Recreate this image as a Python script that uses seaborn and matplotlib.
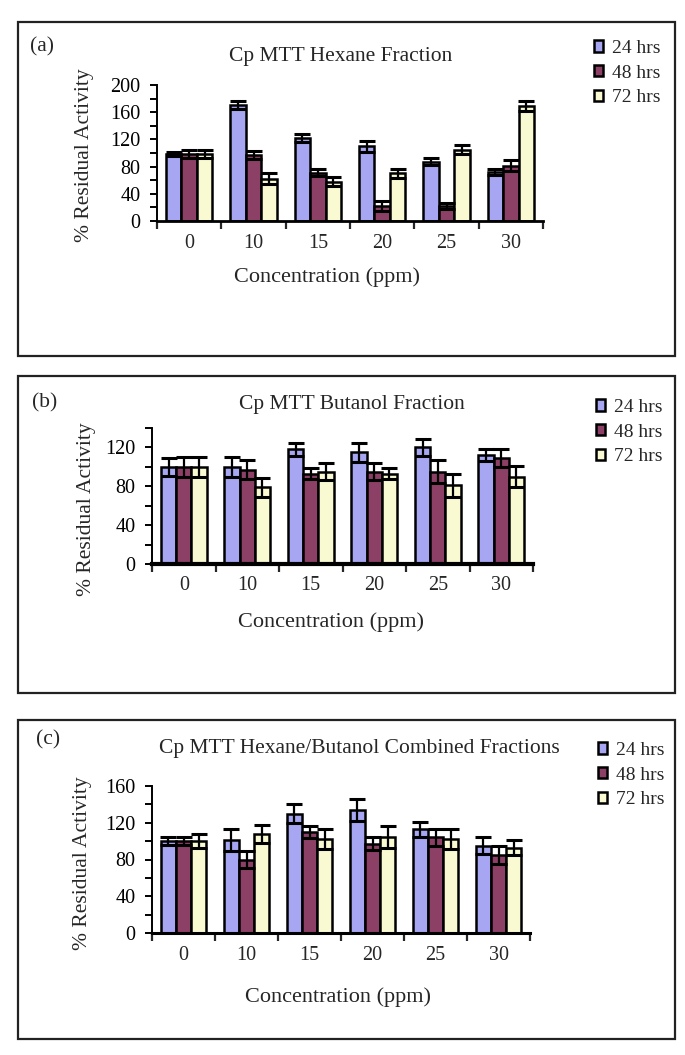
import numpy as np
import pandas as pd
import matplotlib
matplotlib.use('Agg')
import matplotlib.pyplot as plt
from matplotlib.patches import Rectangle
from matplotlib.ticker import MultipleLocator, FixedLocator
import seaborn as sns

# -----------------------------
# Data
# -----------------------------
conc = ['0', '10', '15', '20', '25', '30']
times = ['24 hrs', '48 hrs', '72 hrs']

hex_24 = [99, 171, 122, 110, 87, 72]
hex_48 = [99, 97, 71, 22, 22, 81]
hex_72 = [99, 62, 58, 70, 105, 169]
hex_24_err = [3, 6, 6, 8, 5, 5]
hex_48_err = [6, 6, 5, 8, 5, 8]
hex_72_err = [6, 8, 7, 7, 7, 7]

but_24 = [100, 100, 118, 115, 120, 112]
but_48 = [100, 97, 93, 95, 95, 109]
but_72 = [100, 79, 95, 93, 81, 90]
but_24_err = [9, 10, 7, 10, 9, 6]
but_48_err = [10, 10, 6, 9, 12, 9]
but_72_err = [10, 10, 9, 6, 12, 11]

comb_24 = [100, 101, 130, 134, 113, 95]
comb_48 = [100, 80, 110, 97, 104, 85]
comb_72 = [100, 108, 102, 104, 102, 93]
comb_24_err = [4, 12, 10, 12, 8, 9]
comb_48_err = [4, 9, 7, 7, 9, 10]
comb_72_err = [8, 10, 11, 12, 11, 8]

titles = ['Cp MTT Hexane Fraction', 'Cp MTT Butanol Fraction',
          'Cp MTT Hexane/Butanol Combined Fractions']
panel_tags = ['(a)', '(b)', '(c)']
colors = ['#9999FF', '#993366', '#FFFFCC']

# -----------------------------
# Style
# -----------------------------
sns.set_style('ticks')
plt.rcParams['font.family'] = ['Liberation Serif', 'DejaVu Serif']
plt.rcParams['axes.edgecolor'] = 'black'

W, H = 685, 1055
fig = plt.figure(figsize=(W / 100, H / 100), dpi=100)


def fx(px):
    return px / W


def fy(py):
    return 1 - py / H


def make_df(v24, v48, v72):
    return pd.DataFrame({
        'conc': conc * 3,
        'value': v24 + v48 + v72,
        'time': [t for t in times for _ in conc],
    })


panels = [
    dict(df=make_df(hex_24, hex_48, hex_72), errs=[hex_24_err, hex_48_err, hex_72_err],
         box=(18, 22, 675, 356), ax=(157, 85, 543, 221), ymax=200,
         tag=(42, 47), title=(341, 57), legend=(594, 73),
         ylab=(84, 155), xlab=(327, 277), bottom_lw=2.0),
    dict(df=make_df(but_24, but_48, but_72), errs=[but_24_err, but_48_err, but_72_err],
         box=(18, 376, 675, 693), ax=(152, 428, 533, 564), ymax=140,
         tag=(45, 403), title=(352, 404), legend=(596, 432),
         ylab=(86, 509), xlab=(331, 622), bottom_lw=3.0),
    dict(df=make_df(comb_24, comb_48, comb_72), errs=[comb_24_err, comb_48_err, comb_72_err],
         box=(18, 720, 675, 1039), ax=(152, 786, 530, 933), ymax=160,
         tag=(48, 740), title=(359, 748), legend=(598, 775),
         ylab=(82, 863), xlab=(338, 997), bottom_lw=2.2),
]

for i, p in enumerate(panels):
    # frame around each panel
    x0, y0, x1, y1 = p['box']
    fig.add_artist(Rectangle((fx(x0), fy(y1)), fx(x1) - fx(x0), fy(y0) - fy(y1),
                             transform=fig.transFigure, fill=False,
                             edgecolor='#222222', linewidth=1.6))

    l, t, r, b = p['ax']
    ax = fig.add_axes([fx(l), fy(b), fx(r) - fx(l), fy(t) - fy(b)])
    sns.barplot(data=p['df'], x='conc', y='value', hue='time', palette=colors,
                edgecolor='black', linewidth=1.8, width=0.72, errorbar=None,
                ax=ax)

    # error bars on top of each bar
    for cont, err in zip(ax.containers, p['errs']):
        xs = [bar.get_x() + bar.get_width() / 2 for bar in cont]
        ys = [bar.get_height() for bar in cont]
        ax.errorbar(xs, ys, yerr=err, fmt='none', ecolor='black',
                    elinewidth=1.6, capsize=5.5, capthick=2.2)

    handles, labels = ax.get_legend_handles_labels()
    ax.legend_.remove()

    ax.set_xlim(-0.5, 5.5)
    ax.set_ylim(0, p['ymax'])
    ax.yaxis.set_major_locator(MultipleLocator(40))
    ax.yaxis.set_minor_locator(MultipleLocator(20))
    ax.xaxis.set_minor_locator(FixedLocator(np.arange(-0.5, 6, 1)))
    ax.tick_params(axis='y', which='both', direction='out', length=5, width=1.4,
                   labelsize=14.5, pad=7, colors='black')
    ax.tick_params(axis='x', which='major', length=0, labelsize=14.5, pad=9)
    ax.tick_params(axis='x', which='minor', direction='out', length=6, width=1.6)
    sns.despine(ax=ax)
    ax.spines['left'].set_linewidth(1.4)
    ax.spines['bottom'].set_linewidth(p['bottom_lw'])

    ax.set_xlabel('Concentration (ppm)', fontsize=16)
    ax.set_ylabel('% Residual Activity', fontsize=15.5)
    xl, yl = p['xlab']
    ax.xaxis.set_label_coords((xl - l) / (r - l), (b - yl) / (b - t))
    ax.xaxis.label.set_va('center')
    xl, yl = p['ylab']
    ax.yaxis.set_label_coords((xl - l) / (r - l), (b - yl) / (b - t))
    ax.yaxis.label.set_va('center')

    fig.text(fx(p['tag'][0]), fy(p['tag'][1]), panel_tags[i], fontsize=15.5,
             ha='center', va='center')
    fig.text(fx(p['title'][0]), fy(p['title'][1]), titles[i], fontsize=15.5,
             ha='center', va='center')

    lx, ly = p['legend']
    fig.legend(handles, labels, loc='center left', bbox_to_anchor=(fx(lx), fy(ly)),
               frameon=False, fontsize=14, handlelength=0.45, handleheight=0.55,
               handletextpad=0.45, labelspacing=0.4, borderpad=0, borderaxespad=0)

fig.savefig('out.png', dpi=100)
